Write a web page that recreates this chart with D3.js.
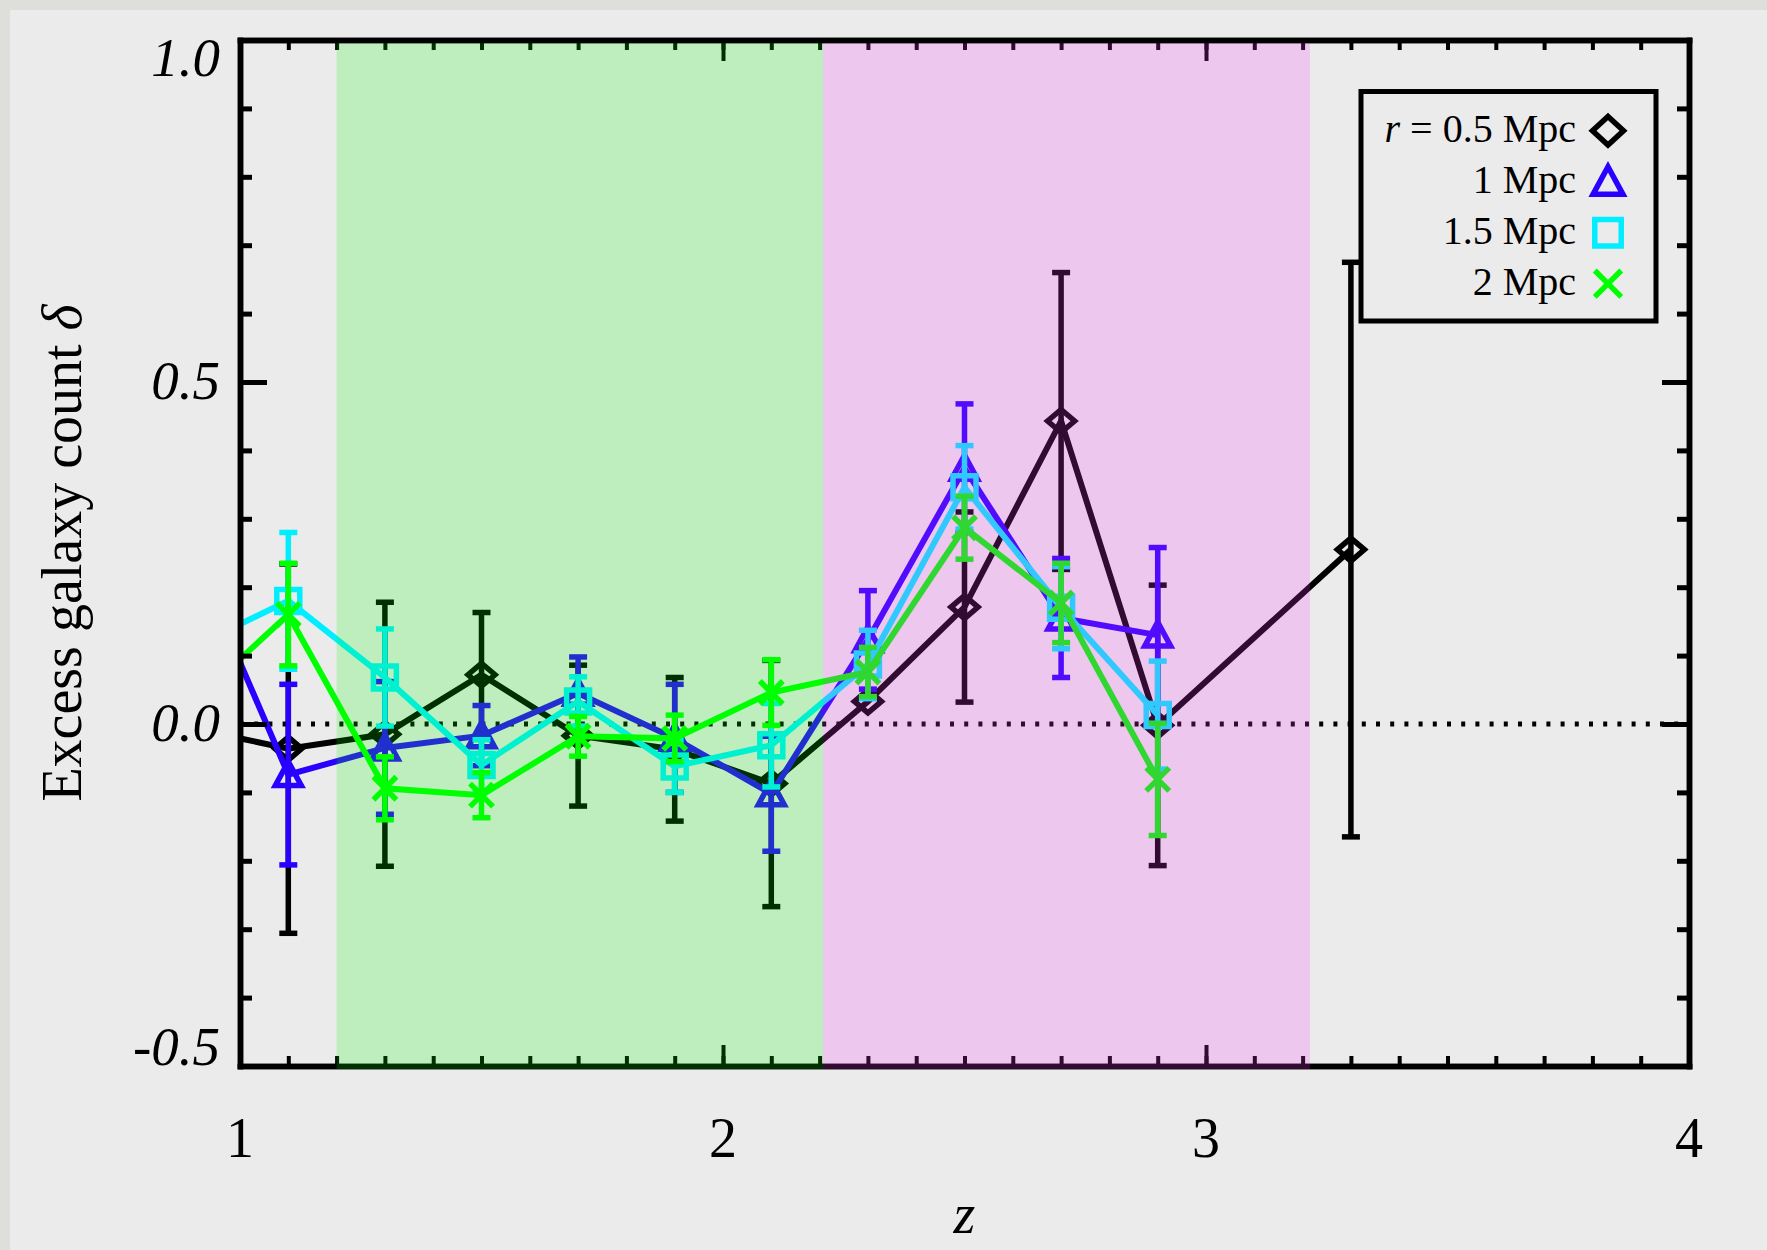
<!DOCTYPE html>
<html>
<head>
<meta charset="utf-8">
<script src="https://cdn.jsdelivr.net/npm/d3@7"></script>
<style>
  html, body { margin: 0; padding: 0; background: #ebebeb; }
  svg { display: block; }
  text { font-family: "Liberation Serif", "Times New Roman", serif; fill: #000; }
</style>
</head>
<body>
<svg id="chart" width="1767" height="1250"></svg>
<script>
// ---- data: excess galaxy count per redshift bin, for four aperture radii ----
const zBlack     = [0.9, 1.1, 1.3, 1.5, 1.7, 1.9, 2.1, 2.3, 2.5, 2.7, 2.9, 3.3];
const deltaBlack = [-0.006, -0.036, -0.015, 0.072, -0.017, -0.037, -0.087, 0.033, 0.171, 0.443, -0.002, 0.255];
const errBlack   = [0.25, 0.27, 0.193, 0.091, 0.103, 0.105, 0.18, 0.0, 0.139, 0.217, 0.205, 0.42];

const zBins      = [0.9, 1.1, 1.3, 1.5, 1.7, 1.9, 2.1, 2.3, 2.5, 2.7, 2.9];
const deltaBlue  = [0.254, -0.074, -0.035, -0.017, 0.045, -0.021, -0.102, 0.123, 0.374, 0.155, 0.13];
const errBlue    = [0.1, 0.132, 0.097, 0.044, 0.053, 0.079, 0.084, 0.072, 0.094, 0.087, 0.128];
const deltaCyan  = [0.112, 0.18, 0.068, -0.06, 0.033, -0.062, -0.031, 0.087, 0.346, 0.17, 0.013];
const errCyan    = [0.1, 0.10, 0.071, 0.037, 0.036, 0.038, 0.061, 0.05, 0.061, 0.06, 0.079];
const deltaGreen = [0.03, 0.16, -0.094, -0.104, -0.018, -0.021, 0.046, 0.076, 0.287, 0.177, -0.081];
const errGreen   = [0.1, 0.075, 0.046, 0.033, 0.029, 0.034, 0.048, 0.036, 0.046, 0.058, 0.082];

const seriesLabels  = ["0.5 Mpc", "1 Mpc", "1.5 Mpc", "2 Mpc"];
const seriesColors  = ["#000000", "#2800ff", "#00eeff", "#00ff00"];
const seriesSymbols = ["diamond", "triangle", "square", "cross"];

// shaded redshift windows
const bandStart   = [1.2, 2.207];
const bandEnd     = [2.207, 3.215];
const bandColors  = ["#00ff00", "rgb(245,55,245)"];
const bandOpacity = [0.19, 0.2];

// axes
const xDomain = [1, 4];
const yDomain = [-0.5, 1.0];
const xTickValues = [1, 2, 3, 4];
const xTickText   = ["1", "2", "3", "4"];
const yTickValues = [1.0, 0.5, 0.0, -0.5];
const yTickText   = ["1.0", "0.5", "0.0", "-0.5"];

// ---- layout ----
const W = 1767, H = 1250;
const plot = { left: 240, right: 1689, top: 40, bottom: 1066 };

const svg = d3.select("#chart");
const x = d3.scaleLinear().domain(xDomain).range([plot.left, plot.right]);
const y = d3.scaleLinear().domain(yDomain).range([plot.bottom, plot.top]);

// page backdrop with a slightly darker edge strip
svg.append("rect").attr("width", W).attr("height", H).attr("fill", "#dededa");
svg.append("rect").attr("x", 10).attr("y", 10).attr("width", W - 10).attr("height", H - 10).attr("fill", "#ebebeb");

svg.append("clipPath").attr("id", "plotClip")
  .append("rect")
  .attr("x", plot.left).attr("y", plot.top)
  .attr("width", plot.right - plot.left).attr("height", plot.bottom - plot.top);

// zero reference line
svg.append("line")
  .attr("x1", plot.left).attr("x2", plot.right)
  .attr("y1", y(0)).attr("y2", y(0))
  .attr("stroke", "#000").attr("stroke-width", 5)
  .attr("stroke-dasharray", "4 10.2");

// ---- marker shapes ----
function symbolPath(kind, big) {
  const k = big ? 1.15 : 1;
  switch (kind) {
    case "diamond": {
      const w = 13.5 * k, h = 11.5 * k * (big ? 1.08 : 1);
      return `M0,${-h}L${w},0L0,${h}L${-w},0Z`;
    }
    case "triangle": {
      const w = 13 * k, t = 13 * k, b = 11 * k;
      return `M0,${-t}L${w},${b}L${-w},${b}Z`;
    }
    case "square": {
      const s = 11.5 * k;
      return `M${-s},${-s}H${s}V${s}H${-s}Z`;
    }
    default: {
      const s = 11.5 * k;
      return `M${-s},${-s}L${s},${s}M${s},${-s}L${-s},${s}`;
    }
  }
}

const series = [
  { z: zBlack, v: deltaBlack, e: errBlack },
  { z: zBins,  v: deltaBlue,  e: errBlue  },
  { z: zBins,  v: deltaCyan,  e: errCyan  },
  { z: zBins,  v: deltaGreen, e: errGreen }
].map((s, i) => ({
  color: seriesColors[i],
  symbol: seriesSymbols[i],
  points: s.z.map((zz, j) => ({ z: zz, v: s.v[j], e: s.e[j] }))
}));

const dataLayer = svg.append("g").attr("clip-path", "url(#plotClip)");
const line = d3.line().x(d => x(d.z)).y(d => y(d.v));

series.forEach(s => {
  const g = dataLayer.append("g");
  g.append("path")
    .attr("d", line(s.points))
    .attr("fill", "none")
    .attr("stroke", s.color)
    .attr("stroke-width", 6)
    .attr("stroke-linejoin", "miter");

  const bars = g.selectAll(".eb").data(s.points.filter(d => d.e > 0)).join("g");
  bars.append("line")
    .attr("x1", d => x(d.z)).attr("x2", d => x(d.z))
    .attr("y1", d => y(d.v + d.e)).attr("y2", d => y(d.v - d.e))
    .attr("stroke", s.color).attr("stroke-width", 5.5);
  [1, -1].forEach(sg => {
    bars.append("line")
      .attr("x1", d => x(d.z) - 9).attr("x2", d => x(d.z) + 9)
      .attr("y1", d => y(d.v + sg * d.e)).attr("y2", d => y(d.v + sg * d.e))
      .attr("stroke", s.color).attr("stroke-width", 5.5);
  });

  g.selectAll(".mk").data(s.points).join("path")
    .attr("transform", d => `translate(${x(d.z)},${y(d.v)})`)
    .attr("d", symbolPath(s.symbol, false))
    .attr("fill", "none")
    .attr("stroke", s.color)
    .attr("stroke-width", 5.5);
});

// ---- axes (ticks point inward on all four sides) ----
const minorX = d3.range(10, 41).map(i => i / 10);
const minorY = d3.range(-5, 11).map(i => i / 10);

function styleAxis(g) {
  g.select(".domain").attr("stroke", "#000").attr("stroke-width", 5.5).attr("stroke-linecap", "square");
  g.selectAll(".tick line").attr("stroke", "#000");
  g.selectAll(".tick text").remove();
}

// bottom / top
svg.append("g").attr("transform", `translate(0,${plot.bottom})`)
  .call(d3.axisBottom(x).tickValues(minorX).tickSizeInner(-10).tickSizeOuter(0))
  .call(styleAxis).call(g => g.selectAll(".tick line").attr("stroke-width", 4));
svg.append("g").attr("transform", `translate(0,${plot.bottom})`)
  .call(d3.axisBottom(x).tickValues(xTickValues).tickSizeInner(-21).tickSizeOuter(0))
  .call(styleAxis).call(g => g.selectAll(".tick line").attr("stroke-width", 4));
svg.append("g").attr("transform", `translate(0,${plot.top})`)
  .call(d3.axisTop(x).tickValues(minorX).tickSizeInner(-10).tickSizeOuter(0))
  .call(styleAxis).call(g => g.selectAll(".tick line").attr("stroke-width", 4));
svg.append("g").attr("transform", `translate(0,${plot.top})`)
  .call(d3.axisTop(x).tickValues(xTickValues).tickSizeInner(-21).tickSizeOuter(0))
  .call(styleAxis).call(g => g.selectAll(".tick line").attr("stroke-width", 4));

// left / right
svg.append("g").attr("transform", `translate(${plot.left},0)`)
  .call(d3.axisLeft(y).tickValues(minorY).tickSizeInner(-12).tickSizeOuter(0))
  .call(styleAxis).call(g => g.selectAll(".tick line").attr("stroke-width", 5));
svg.append("g").attr("transform", `translate(${plot.left},0)`)
  .call(d3.axisLeft(y).tickValues(yTickValues).tickSizeInner(-27).tickSizeOuter(0))
  .call(styleAxis).call(g => g.selectAll(".tick line").attr("stroke-width", 5));
svg.append("g").attr("transform", `translate(${plot.right},0)`)
  .call(d3.axisRight(y).tickValues(minorY).tickSizeInner(-12).tickSizeOuter(0))
  .call(styleAxis).call(g => g.selectAll(".tick line").attr("stroke-width", 5));
svg.append("g").attr("transform", `translate(${plot.right},0)`)
  .call(d3.axisRight(y).tickValues(yTickValues).tickSizeInner(-27).tickSizeOuter(0))
  .call(styleAxis).call(g => g.selectAll(".tick line").attr("stroke-width", 5));

// ---- translucent redshift windows laid over the plot ----
bandStart.forEach((b0, i) => {
  svg.append("rect")
    .attr("x", x(b0)).attr("width", x(bandEnd[i]) - x(b0))
    .attr("y", plot.top + 3.3).attr("height", plot.bottom + 3 - (plot.top + 3.3))
    .attr("fill", bandColors[i]).attr("fill-opacity", bandOpacity[i]);
});

// ---- tick labels ----
svg.append("g").selectAll("text").data(xTickValues).join("text")
  .attr("x", d => x(d)).attr("y", 1157)
  .attr("text-anchor", "middle")
  .attr("font-size", 56)
  .text((d, i) => xTickText[i]);

svg.append("g").selectAll("text").data(yTickValues).join("text")
  .attr("x", 220)
  .attr("y", d => Math.min(Math.max(y(d), y(yDomain[1]) + 19), y(yDomain[0]) - 18) + 17)
  .attr("text-anchor", "end")
  .attr("font-size", 55)
  .attr("font-style", "italic")
  .text((d, i) => yTickText[i]);

// ---- axis titles ----
svg.append("text")
  .attr("x", (plot.left + plot.right) / 2).attr("y", 1233)
  .attr("text-anchor", "middle")
  .attr("font-size", 56).attr("font-style", "italic")
  .text("z");

const yTitle = svg.append("text")
  .attr("transform", `translate(81,${(plot.top + plot.bottom) / 2}) rotate(-90)`)
  .attr("text-anchor", "middle")
  .attr("font-size", 56);
yTitle.append("tspan").text("Excess galaxy count ");
yTitle.append("tspan").attr("font-style", "italic").text("δ");

// ---- legend ----
const legend = svg.append("g");
legend.append("rect")
  .attr("x", 1361).attr("y", 91.5).attr("width", 295).attr("height", 229.5)
  .attr("fill", "#ebebeb").attr("stroke", "#000").attr("stroke-width", 5);

seriesLabels.forEach((lab, i) => {
  const rowY = 130.7 + i * 51;
  const t = legend.append("text")
    .attr("x", 1576).attr("y", rowY + 11.5)
    .attr("text-anchor", "end")
    .attr("font-size", 40);
  if (i === 0) {
    t.append("tspan").attr("font-style", "italic").text("r");
    t.append("tspan").text(" = " + lab);
  } else {
    t.text(lab);
  }
  legend.append("path")
    .attr("transform", `translate(1608,${rowY})`)
    .attr("d", symbolPath(seriesSymbols[i], true))
    .attr("fill", "none")
    .attr("stroke", seriesColors[i])
    .attr("stroke-width", 5.5);
});
</script>
</body>
</html>
